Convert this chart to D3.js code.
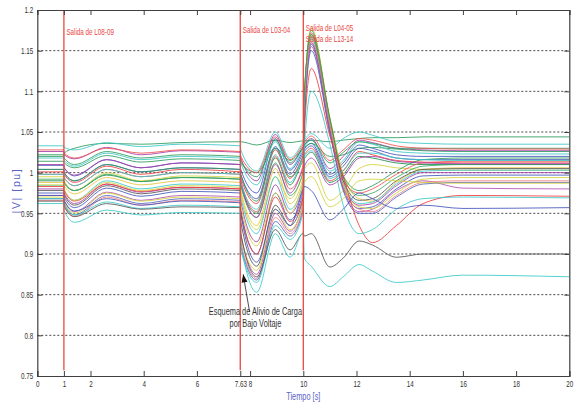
<!DOCTYPE html>
<html><head><meta charset="utf-8">
<script src="https://cdn.jsdelivr.net/npm/d3@7"></script>
<style>
html,body{margin:0;padding:0;background:#fff;}
svg{display:block;}
text{font-family:"Liberation Sans",Arial,sans-serif;}
</style></head>
<body><svg id="chart" width="576" height="403"></svg>
<script>
// ---- data ----
const times = [0, 1, 1.01, 1.4, 2.6, 3.9, 5.4, 7.63, 7.65, 8.25, 8.95, 9.5, 10, 10.04, 10.3, 11, 11.5, 12.1, 12.6, 13.5, 14.5, 16, 20];

const s01 = [1.020,1.020,1.024,1.030,1.036,1.035,1.037,1.038,1.038,1.034,1.040,1.037,1.039,1.039,1.040,1.038,1.040,1.042,1.043,1.043,1.044,1.044,1.044];
const s02 = [1.033,1.033,1.031,1.028,1.037,1.032,1.035,1.033,1.028,1.002,1.050,1.018,1.038,1.040,1.048,1.030,1.042,1.050,1.046,1.038,1.036,1.035,1.035];
const s03 = [1.026,1.026,1.022,1.017,1.031,1.022,1.027,1.025,1.018,0.990,1.047,1.010,1.032,1.034,1.042,1.005,1.020,1.040,1.037,1.030,1.028,1.027,1.027];
const s04 = [1.009,1.009,1.006,0.996,1.016,1.006,1.012,1.010,1.004,0.975,1.042,1.003,1.027,1.029,1.036,0.998,1.012,1.034,1.030,1.022,1.020,1.020,1.020];
const s05 = [1.014,1.014,1.012,1.006,1.021,1.013,1.017,1.015,1.012,1.000,1.030,1.015,1.030,1.031,1.036,1.020,1.022,1.030,1.031,1.029,1.027,1.026,1.026];
const s06 = [1.001,1.001,0.998,0.988,1.008,0.998,1.004,1.001,0.994,0.962,1.028,0.993,1.020,1.022,1.030,0.990,1.002,1.026,1.022,1.015,1.013,1.012,1.012];
const s07 = [1.018,1.018,1.015,1.008,1.024,1.016,1.020,1.018,1.012,0.985,1.038,1.005,1.030,1.032,1.040,1.002,1.015,1.038,1.035,1.026,1.024,1.023,1.023];
const s08 = [1.004,1.004,1.000,0.990,1.010,1.001,1.006,1.004,0.998,0.968,1.032,0.998,1.024,1.026,1.033,0.995,1.008,1.030,1.027,1.018,1.016,1.016,1.016];
const s09 = [0.995,0.995,0.990,0.978,1.000,0.990,0.996,0.994,0.975,0.930,0.995,0.968,1.000,1.004,1.012,0.966,0.978,1.005,1.010,1.006,1.004,1.003,1.003];
const s10 = [0.990,0.990,0.987,0.978,0.997,0.989,0.994,0.992,0.985,0.950,1.018,0.985,1.015,1.017,1.025,0.988,0.998,1.020,1.018,1.012,1.010,1.010,1.010];
const s11 = [0.988,0.988,0.984,0.974,0.994,0.985,0.990,0.988,0.978,0.935,1.005,0.962,0.995,1.090,1.178,1.068,0.998,0.968,0.965,0.988,1.004,1.006,1.006];
const s12 = [0.992,0.992,0.988,0.978,0.998,0.989,0.994,0.992,0.984,0.945,1.012,0.972,1.002,1.092,1.175,1.066,0.994,0.972,0.975,0.994,1.008,1.010,1.010];
const s13 = [0.998,0.998,0.994,0.984,1.004,0.995,1.000,0.998,0.990,0.952,1.020,0.980,1.010,1.095,1.172,1.064,0.990,0.975,0.980,0.998,1.012,1.014,1.014];
const s14 = [0.980,0.980,0.975,0.962,0.986,0.976,0.982,0.980,0.965,0.915,0.985,0.950,0.985,1.075,1.160,1.056,0.985,0.960,0.962,0.984,1.000,1.000,1.000];
const s15 = [0.975,0.975,0.970,0.957,0.981,0.971,0.977,0.975,0.955,0.900,0.975,0.942,0.978,1.070,1.158,1.052,0.982,0.956,0.958,0.980,0.996,0.997,0.997];
const s16 = [0.984,0.984,0.979,0.966,0.990,0.980,0.986,0.984,0.970,0.925,0.995,0.955,0.990,1.080,1.165,1.060,0.988,0.962,0.964,0.986,1.002,1.003,1.003];
const s17 = [0.978,0.978,0.973,0.960,0.984,0.974,0.980,0.978,0.940,0.885,0.960,0.935,0.970,1.075,1.168,1.062,0.990,0.966,0.968,0.990,1.004,1.005,1.005];
const s18 = [0.972,0.972,0.966,0.952,0.976,0.966,0.972,0.970,0.925,0.875,0.950,0.928,0.965,1.065,1.155,1.050,0.980,0.952,0.955,0.978,0.990,0.981,0.980];
const s19 = [0.970,0.970,0.965,0.950,0.975,0.965,0.970,0.968,0.920,0.880,0.955,0.930,0.962,1.080,1.170,1.062,0.985,0.958,0.956,0.975,0.992,0.994,0.994];
const s20 = [0.966,0.966,0.960,0.946,0.970,0.960,0.966,0.964,0.915,0.870,0.945,0.925,0.958,1.070,1.162,1.058,0.983,0.955,0.952,0.972,0.988,0.990,0.990];
const s21 = [0.968,0.968,0.962,0.948,0.972,0.962,0.968,0.966,0.910,0.868,0.940,0.922,0.955,1.060,1.150,1.048,0.978,0.950,0.950,0.970,0.986,0.988,0.988];
const s22 = [1.004,1.004,1.000,0.990,1.010,1.001,1.006,1.004,0.998,0.965,1.030,0.995,1.022,1.100,1.170,1.066,0.996,0.978,0.984,1.002,1.016,1.018,1.018];
const s23 = [0.983,0.983,0.978,0.965,0.986,0.977,0.982,0.980,0.950,0.900,0.970,0.940,0.972,1.050,1.128,1.045,0.995,0.935,0.914,0.935,0.962,0.972,0.971];
const s24 = [0.968,0.968,0.962,0.948,0.964,0.956,0.960,0.958,0.905,0.865,0.935,0.918,0.952,1.030,1.100,1.035,0.960,0.925,0.930,0.955,0.968,0.970,0.969];
const s25 = [0.972,0.972,0.966,0.953,0.968,0.960,0.965,0.963,0.950,0.890,0.955,0.935,0.980,0.983,0.978,0.942,0.955,0.975,0.968,0.956,0.960,0.956,0.957];
const s26 = [0.965,0.965,0.958,0.946,0.962,0.955,0.958,0.957,0.925,0.872,0.930,0.905,0.925,0.922,0.925,0.884,0.895,0.916,0.911,0.896,0.900,0.900,0.900];
const s27 = [0.962,0.962,0.953,0.939,0.954,0.948,0.951,0.950,0.915,0.853,0.925,0.896,0.926,0.895,0.885,0.860,0.872,0.887,0.879,0.865,0.868,0.874,0.872];
const s28 = [1.010,1.010,1.006,0.997,1.016,1.006,1.012,1.010,0.990,0.945,1.010,0.975,1.005,1.008,1.018,0.985,0.995,1.018,1.020,1.014,1.012,1.011,1.011];
const s29 = [0.985,0.985,0.980,0.966,0.988,0.978,0.984,0.982,0.960,0.910,0.975,0.950,0.985,0.988,0.995,0.958,0.968,0.990,0.992,0.990,0.988,0.987,0.987];
const s30 = [0.998,0.998,0.994,0.984,1.004,0.995,1.000,0.998,0.988,0.955,1.022,0.988,1.018,1.020,1.027,0.993,1.003,1.024,1.024,1.018,1.016,1.015,1.015];
const s31 = [1.022,1.022,1.018,1.010,1.026,1.018,1.022,1.020,1.015,0.995,1.040,1.012,1.032,1.034,1.040,1.012,1.025,1.038,1.036,1.030,1.030,1.030,1.030];
const s32 = [1.028,1.028,1.024,1.018,1.030,1.024,1.028,1.026,1.020,1.000,1.044,1.016,1.035,1.037,1.045,1.015,1.028,1.042,1.040,1.033,1.030,1.029,1.029];

const seriesList = [s01,s02,s03,s04,s05,s06,s07,s08,s09,s10,s11,s12,s13,s14,s15,s16,s17,s18,s19,s20,s21,s22,s23,s24,s25,s26,s27,s28,s29,s30,s31,s32];
const seriesColors = ["#2a9a5c","#3cc8c8","#a83ca8","#4455bb","#2a9a5c","#f03c3c","#3cc8c8","#4455bb",
  "#d2d23c","#1f8a4a","#e6c23c","#3aa860","#f05050","#a83ca8","#4455bb","#3cc8c8",
  "#555555","#b050b0","#d2d23c","#f08080","#5565c0","#2a9a5c","#f03c3c","#3cc8c8",
  "#4455bb","#555555","#3cc8c8","#a83ca8","#d2d23c","#3cc8c8","#2a9a5c","#f05050"];

const eventTimes = [1, 7.63, 10];
const eventLabels = [["Salida de L08-09"], ["Salida de L03-04"], ["Salida de L04-05", "Salida de L13-14"]];
const xTicks = [0, 1, 2, 4, 6, 7.63, 8, 10, 12, 14, 16, 18, 20];
const yTicks = [0.75, 0.8, 0.85, 0.9, 0.95, 1, 1.05, 1.1, 1.15, 1.2];
const gridValues = [0.8, 0.85, 0.9, 0.95, 1, 1.05, 1.1, 1.15];
const annotationLines = ["Esquema de Alivio de Carga", "por Bajo Voltaje"];
const xLabel = "Tiempo [s]";
const yLabel = "|V| [pu]";

// ---- drawing ----
const svg = d3.select("#chart");
const L = 37.3, R = 569.3, T = 10, B = 376;
const x = d3.scaleLinear().domain([0, 20]).range([L, R]);
const y = d3.scaleLinear().domain([0.75, 1.2]).range([B, T]);
const axisColor = "#404040";
const SX = 0.74; // narrow-font look

function condense(sel){
  sel.each(function(){
    const t = d3.select(this);
    const x0 = +(t.attr("x") || 0);
    const prev = t.attr("transform") || "";
    t.attr("transform", `${prev} translate(${x0},0) scale(${SX},1) translate(${-x0},0)`);
  });
}

svg.append("defs").append("clipPath").attr("id","clip")
  .append("rect").attr("x",L).attr("y",T).attr("width",R-L).attr("height",B-T);

// grid
svg.append("g").selectAll("line").data(gridValues).join("line")
  .attr("x1",L).attr("x2",R).attr("y1",d=>y(d)).attr("y2",d=>y(d))
  .attr("stroke","#333").attr("stroke-width",0.9).attr("stroke-dasharray","2,2");

// series
const line = d3.line().x((d,i)=>x(times[i])).y(d=>y(d)).curve(d3.curveMonotoneX);
const g = svg.append("g").attr("clip-path","url(#clip)");
seriesList.forEach((s,i)=>{
  g.append("path").attr("d", line(s)).attr("fill","none")
    .attr("stroke", seriesColors[i]).attr("stroke-width",1).attr("stroke-opacity",0.85);
});

// event lines
svg.append("g").selectAll("line").data(eventTimes).join("line")
  .attr("x1",d=>x(d)).attr("x2",d=>x(d)).attr("y1",y(1.2)).attr("y2",y(0.757))
  .attr("stroke","#e8483f").attr("stroke-width",1.3);

// event labels
eventTimes.forEach((t,i)=>{
  eventLabels[i].forEach((txt,j)=>{
    svg.append("text").attr("x", x(t)+2.5).attr("y", (i===0?35:(i===1?33:31)) + j*11)
      .attr("fill","#e8483f").attr("font-size",8.5).text(txt).call(condense);
  });
});

// axes
const xAxisB = d3.axisBottom(x).tickValues(xTicks).tickSize(-5).tickPadding(5)
  .tickFormat(d=>d===7.63?"7.63":d3.format("d")(d));
const gx = svg.append("g").attr("transform",`translate(0,${B})`).call(xAxisB);
const xAxisT = d3.axisTop(x).tickValues(xTicks).tickSize(-5).tickFormat("");
const gxt = svg.append("g").attr("transform",`translate(0,${T})`).call(xAxisT);
const yAxisL = d3.axisLeft(y).tickValues(yTicks).tickSize(-5).tickPadding(4)
  .tickFormat(d=>String(+d.toFixed(2)));
const gy = svg.append("g").attr("transform",`translate(${L},0)`).call(yAxisL);
const yAxisR = d3.axisRight(y).tickValues(yTicks).tickSize(-5).tickFormat("");
const gyr = svg.append("g").attr("transform",`translate(${R},0)`).call(yAxisR);
[gx,gxt,gy,gyr].forEach(a=>{
  a.select(".domain").attr("stroke",axisColor).attr("stroke-width",1.2);
  a.selectAll(".tick line").attr("stroke",axisColor);
  a.selectAll(".tick text").attr("fill","#333").attr("font-size",8.5)
    .attr("font-family","'Liberation Sans',Arial,sans-serif").call(condense);
});

// axis labels
svg.append("text").attr("x",(L+R)/2).attr("y",400).attr("text-anchor","middle")
  .attr("fill","#5a64c8").attr("font-size",10).text(xLabel).call(condense);
svg.append("text").attr("transform",`translate(20,${y(0.978)}) rotate(-90)`)
  .attr("text-anchor","middle").attr("fill","#5a64c8").attr("font-size",10.5)
  .attr("letter-spacing",1.6).text(yLabel);

// annotation
const ax = x(8.2);
annotationLines.forEach((txt,j)=>{
  svg.append("text").attr("x",ax).attr("y",y(0.8245)+j*12).attr("text-anchor","middle")
    .attr("fill","#333").attr("font-size",10).text(txt).call(condense);
});
const tipX = x(7.74), tipY = y(0.875);
const tailX = x(7.98), tailY = y(0.829);
svg.append("line").attr("x1",tailX).attr("y1",tailY).attr("x2",tipX).attr("y2",tipY)
  .attr("stroke","#222").attr("stroke-width",0.8);
const ang = Math.atan2(tipY-tailY, tipX-tailX);
const hl = 8, hw = 3;
const p1 = [tipX - hl*Math.cos(ang) + hw*Math.sin(ang), tipY - hl*Math.sin(ang) - hw*Math.cos(ang)];
const p2 = [tipX - hl*Math.cos(ang) - hw*Math.sin(ang), tipY - hl*Math.sin(ang) + hw*Math.cos(ang)];
svg.append("path").attr("d",`M${tipX},${tipY}L${p1[0]},${p1[1]}L${p2[0]},${p2[1]}Z`).attr("fill","#111");
</script></body></html>
